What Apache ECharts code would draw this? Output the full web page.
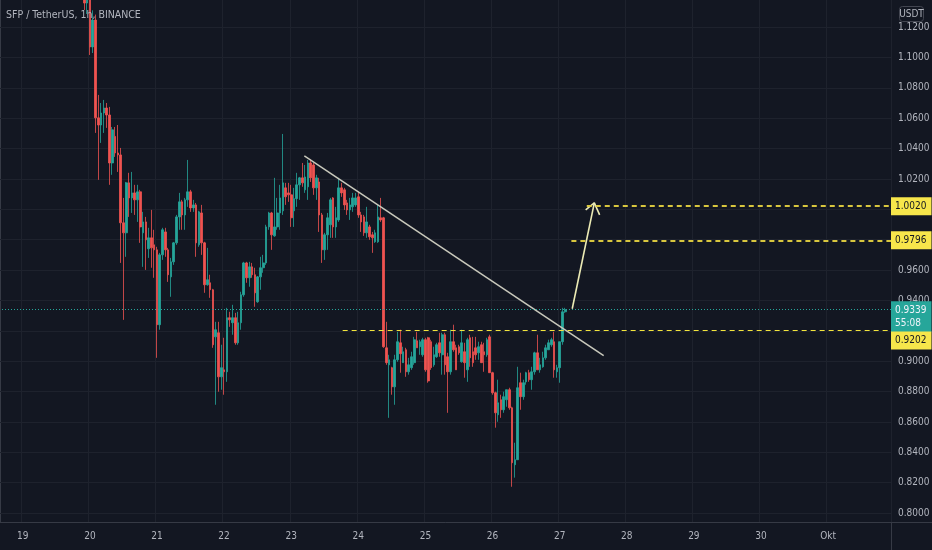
<!DOCTYPE html>
<html>
<head>
<meta charset="utf-8">
<script src="https://cdn.jsdelivr.net/npm/echarts@6/dist/echarts.min.js"></script>
<style>
html,body{margin:0;padding:0;background:#131722;}
#chart{width:932px;height:550px;}
</style>
</head>
<body>
<div id="chart"></div>
<script>
// ---------------- data ----------------
const titleText = 'SFP / TetherUS, 1h, BINANCE';
const currencyLabel = 'USDT';
const axisStart = '2021-09-18 16:00';   // first hourly slot on the time axis
const axisHours = 319;                   // number of hourly slots shown
const candleStart = '2021-09-19 22:00';  // time of first candle
const monthNames = {10: 'Okt'};
const priceTicks = [0.80,0.82,0.84,0.86,0.88,0.90,0.92,0.94,0.96,0.98,1.00,1.02,1.04,1.06,1.08,1.10,1.12];
const priceRange = [0.7941, 1.1378];
// [open, close, low, high]
const ohlc = [
[1.1500,1.1358,1.1312,1.1580],[1.1358,1.1460,1.1286,1.1520],[1.1460,1.1069,1.1016,1.1500],[1.1069,1.1246,1.1029,1.1310],
[1.1246,1.0602,1.0503,1.1282],[1.0602,1.0555,1.0194,1.0753],[1.0555,1.0634,1.0437,1.0700],[1.0634,1.0667,1.0503,1.0720],
[1.0667,1.0621,1.0536,1.0700],[1.0621,1.0305,1.0161,1.0674],[1.0305,1.0523,1.0227,1.0542],[1.0480,1.0371,1.0345,1.0542],
[1.0371,1.0358,1.0246,1.0555],[1.0358,0.9911,0.9647,1.0404],[0.9911,0.9845,0.9272,1.0075],[0.9845,1.0174,0.9687,1.0180],
[1.0174,1.0075,0.9950,1.0240],[1.0075,1.0108,0.9976,1.0246],[1.0108,1.0062,0.9963,1.0161],[1.0062,1.0115,0.9917,1.0161],
[1.0115,0.9884,0.9779,1.0128],[0.9845,0.9917,0.9621,0.9983],[0.9917,0.9799,0.9601,0.9950],[0.9740,0.9812,0.9680,0.9878],
[0.9812,0.9746,0.9615,0.9996],[0.9766,0.9733,0.9549,0.9865],[0.9733,0.9240,0.9022,0.9753],[0.9240,0.9700,0.9207,0.9713],
[0.9700,0.9865,0.9667,0.9878],[0.9851,0.9733,0.9687,0.9878],[0.9733,0.9569,0.9522,0.9746],[0.9555,0.9654,0.9424,0.9680],
[0.9654,0.9779,0.9634,0.9785],[0.9779,0.9950,0.9766,0.9963],[0.9950,1.0049,0.9865,1.0108],[1.0049,0.9963,0.9865,1.0062],
[0.9963,1.0062,0.9865,1.0075],[1.0062,1.0115,1.0016,1.0325],[1.0115,1.0009,0.9983,1.0128],[1.0009,1.0029,0.9983,1.0062],
[1.0029,0.9779,0.9687,1.0042],[0.9766,0.9983,0.9753,0.9990],[0.9976,0.9779,0.9700,1.0029],[0.9779,0.9503,0.9450,0.9786],
[0.9503,0.9536,0.9497,0.9746],[0.9516,0.9470,0.9417,0.9569],[0.9470,0.9108,0.9088,0.9476],[0.9160,0.9207,0.8713,0.9259],
[0.9187,0.8897,0.8799,0.9259],[0.8897,0.8957,0.8812,0.9108],[0.8943,0.8930,0.8779,0.9154],[0.8930,0.9286,0.8864,0.9351],
[0.9286,0.9272,0.9226,0.9325],[0.9253,0.9286,0.9174,0.9371],[0.9286,0.9121,0.9108,0.9318],[0.9121,0.9253,0.9108,0.9325],
[0.9253,0.9437,0.9207,0.9457],[0.9437,0.9647,0.9424,0.9654],[0.9647,0.9549,0.9516,0.9654],[0.9549,0.9621,0.9490,0.9654],
[0.9621,0.9569,0.9549,0.9647],[0.9569,0.9450,0.9358,0.9615],[0.9391,0.9555,0.9384,0.9560],[0.9555,0.9615,0.9470,0.9687],
[0.9615,0.9647,0.9582,0.9700],[0.9647,0.9884,0.9634,0.9898],[0.9884,0.9976,0.9865,0.9983],[0.9976,0.9832,0.9733,0.9983],
[0.9825,0.9884,0.9819,1.0207],[0.9884,0.9976,0.9865,1.0075],[0.9976,1.0075,0.9865,1.0161],[0.9990,1.0174,0.9963,1.0496],
[1.0141,1.0082,1.0029,1.0174],[1.0108,1.0095,1.0049,1.0174],[1.0095,0.9944,0.9884,1.0161],[0.9990,1.0070,0.9884,1.0141],
[1.0070,1.0161,1.0016,1.0240],[1.0161,1.0207,1.0062,1.0213],[1.0207,1.0174,1.0148,1.0305],[1.0128,1.0213,1.0108,1.0292],
[1.0148,1.0305,1.0062,1.0325],[1.0305,1.0207,1.0180,1.0330],[1.0292,1.0141,1.0095,1.0305],[1.0141,1.0207,1.0062,1.0227],
[1.0180,0.9963,0.9851,1.0207],[0.9963,0.9733,0.9647,0.9976],[0.9733,0.9832,0.9667,0.9845],[0.9832,0.9944,0.9733,0.9976],
[0.9898,1.0062,0.9812,1.0075],[1.0075,0.9884,0.9812,1.0080],[0.9884,0.9944,0.9812,1.0016],[0.9930,1.0141,0.9917,1.0207],
[1.0141,1.0108,1.0082,1.0174],[1.0128,1.0029,0.9996,1.0141],[1.0042,0.9996,0.9963,1.0062],[0.9996,1.0029,0.9930,1.0075],
[1.0016,1.0075,0.9983,1.0108],[1.0029,1.0075,1.0016,1.0108],[1.0082,0.9963,0.9944,1.0115],[0.9963,0.9917,0.9851,0.9983],
[0.9950,0.9845,0.9825,0.9963],[0.9845,0.9917,0.9812,1.0016],[0.9884,0.9819,0.9799,0.9898],[0.9832,0.9812,0.9713,0.9851],
[0.9786,0.9845,0.9779,0.9865],[0.9786,0.9950,0.9779,1.0029],[0.9944,0.9930,0.9917,1.0075],[0.9944,0.9095,0.9088,0.9950],
[0.9088,0.8990,0.8976,0.9259],[0.8976,0.9009,0.8627,0.9042],[0.8957,0.8831,0.8779,0.8963],[0.8831,0.9009,0.8713,0.9042],
[0.9009,0.9128,0.8996,0.9193],[0.9121,0.9049,0.8924,0.9207],[0.8990,0.9062,0.8990,0.9095],[0.9075,0.8930,0.8897,0.9088],
[0.8930,0.8976,0.8911,0.9022],[0.8957,0.9029,0.8943,0.9062],[0.8990,0.9141,0.8976,0.9160],[0.9134,0.9088,0.9088,0.9193],
[0.9095,0.9128,0.9042,0.9141],[0.9042,0.9141,0.9029,0.9154],[0.9141,0.8943,0.8930,0.9154],[0.9154,0.8870,0.8858,0.9160],
[0.9128,0.8957,0.8943,0.9141],[0.8976,0.9042,0.8963,0.9095],[0.9029,0.9108,0.9022,0.9121],[0.9121,0.9055,0.9029,0.9187],
[0.9042,0.9174,0.8911,0.9187],[0.9174,0.8976,0.8911,0.9187],[0.9029,0.8930,0.8660,0.9055],[0.8930,0.9128,0.8911,0.9207],
[0.9128,0.9075,0.9062,0.9240],[0.9088,0.8943,0.8943,0.9108],[0.9095,0.9055,0.9042,0.9108],[0.8996,0.9121,0.8990,0.9207],
[0.9062,0.8990,0.8891,0.9121],[0.8943,0.9141,0.8864,0.9154],[0.9154,0.9022,0.8963,0.9174],[0.9062,0.8990,0.8963,0.9160],
[0.9088,0.9042,0.9009,0.9160],[0.9055,0.9095,0.9009,0.9128],[0.9108,0.8990,0.8990,0.9128],[0.9062,0.9042,0.8930,0.9121],
[0.9042,0.9141,0.9029,0.9154],[0.9160,0.8924,0.8924,0.9174],[0.8924,0.8792,0.8779,0.8930],[0.8792,0.8660,0.8562,0.8799],
[0.8647,0.8726,0.8601,0.8878],[0.8746,0.8680,0.8627,0.8779],[0.8680,0.8766,0.8660,0.8799],[0.8746,0.8812,0.8700,0.8812],
[0.8812,0.8693,0.8680,0.8825],[0.8693,0.8331,0.8173,0.8700],[0.8318,0.8351,0.8233,0.8463],[0.8351,0.8825,0.8351,0.8963],
[0.8858,0.8766,0.8680,0.8924],[0.8766,0.8858,0.8746,0.8878],[0.8864,0.8924,0.8845,0.8930],[0.8924,0.8878,0.8864,0.8943],
[0.8878,0.8930,0.8812,0.8963],[0.8930,0.9055,0.8911,0.9062],[0.9055,0.8943,0.8943,0.9174],[0.8943,0.8976,0.8924,0.9022],
[0.8963,0.9022,0.8957,0.9062],[0.9022,0.9088,0.9009,0.9108],[0.9075,0.9121,0.9075,0.9141],[0.9108,0.9141,0.9095,0.9154],
[0.9128,0.8943,0.8891,0.9193],[0.8930,0.8957,0.8891,0.8976],[0.8957,0.9128,0.8858,0.9128],[0.9128,0.9325,0.9108,0.9351],
[0.9325,0.9339,0.9318,0.9351]
];
const lastPrice = 0.9339;
const countdown = '55:08';
const targetLevels = [1.0020, 0.9796];
const targetStarts = ['2021-09-27 09:42', '2021-09-27 04:12'];
const supportLevel = 0.9202;
const supportStart = '2021-09-23 18:24';
const trendLine = [['2021-09-23 04:42', 1.0351], ['2021-09-27 15:45', 0.9036]];
const arrowShaft = [['2021-09-27 04:30', 0.9345], ['2021-09-27 12:24', 1.0042]];
const arrowHead = [['2021-09-27 09:18', 0.9996], ['2021-09-27 12:24', 1.0042], ['2021-09-27 14:18', 0.9963]];

// ---------------- helpers ----------------
function toMs(s){
  const [d,t] = s.split(' ');
  const [Y,M,D] = d.split('-').map(Number);
  const [h,m] = t.split(':').map(Number);
  return Date.UTC(Y, M-1, D, h, m);
}
const t0 = toMs(axisStart);
const hourIdx = s => (toMs(s) - t0) / 3600000;
const pad = n => (n < 10 ? '0' : '') + n;
const categories = [];
for (let k = 0; k < axisHours; k++) {
  const d = new Date(t0 + k * 3600000);
  categories.push(d.getUTCFullYear() + '-' + pad(d.getUTCMonth()+1) + '-' + pad(d.getUTCDate()) + ' ' + pad(d.getUTCHours()) + ':00');
}
const startIdx = hourIdx(candleStart);
const candleData = categories.map((c, k) => {
  const j = k - startIdx;
  return (j >= 0 && j < ohlc.length) ? ohlc[j] : '-';
});
const isDayStart = v => v.endsWith(' 00:00');
function dayLabel(v){
  const d = new Date(toMs(v));
  const day = d.getUTCDate();
  return day === 1 ? (monthNames[d.getUTCMonth()+1] || String(day)) : String(day);
}
const axisEnd = axisHours - 0.5;
const pt = p => [hourIdx(p[0]), p[1]];

// ---------------- style ----------------
const FONT = "'Liberation Sans Narrow','DejaVu Sans Condensed','Liberation Sans',sans-serif";
const BG = '#131722';
const GRID = '#1e222d';
const TXT = '#b2b5be';
const UP = '#26a69a';
const DOWN = '#ef5350';
const AXIS = '#363a45';

function levelLine(price, from, color, width, dash, labelOpt){
  return [
    {coord: [hourIdx(from), price], lineStyle: {color: color, width: width, type: dash}, label: labelOpt},
    {coord: [axisEnd, price]}
  ];
}
const boxLabel = (text, bg, fg, offset) => ({
  show: true, position: 'end', distance: 0, formatter: text,
  backgroundColor: bg, color: fg, padding: [3, 5, 2, 4],
  fontSize: 10, fontFamily: FONT, lineHeight: 13, offset: offset || [0, 0]
});

const chart = echarts.init(document.getElementById('chart'), null, {renderer: 'canvas'});
chart.setOption({
  backgroundColor: BG,
  animation: false,
  title: {
    text: titleText, left: 6, top: 10, padding: 0,
    textStyle: {color: TXT, fontSize: 10.5, fontWeight: 'normal', fontFamily: FONT}
  },
  grid: {left: -1, right: 41, top: 0, bottom: 28, containLabel: false, outerBoundsMode: 'none'},
  xAxis: [{
    type: 'category', data: categories, boundaryGap: true,
    axisLine: {show: true, lineStyle: {color: AXIS, width: 1}},
    axisTick: {show: false},
    axisLabel: {interval: (i, v) => isDayStart(v), formatter: dayLabel, color: TXT, fontSize: 10, fontFamily: FONT, margin: 9},
    splitLine: {show: true, interval: (i, v) => isDayStart(v), lineStyle: {color: GRID, width: 1}}
  }, {
    type: 'value', min: -0.5, max: axisEnd, show: false
  }],
  yAxis: {
    type: 'value', position: 'right', min: priceRange[0], max: priceRange[1],
    axisLine: {show: true, lineStyle: {color: AXIS, width: 1}},
    axisTick: {show: false},
    splitLine: {show: false},
    axisLabel: {customValues: priceTicks, formatter: v => v.toFixed(4), color: TXT, fontSize: 10, fontFamily: FONT, margin: 7}
  },
  series: [{
    name: 'grid', type: 'line', xAxisIndex: 1, data: [], silent: true, z: 1,
    markLine: {
      silent: true, symbol: 'none', z: 1, animation: false,
      label: {show: false},
      lineStyle: {color: GRID, width: 1, type: 'solid'},
      data: priceTicks.map(v => ({yAxis: v}))
    }
  }, {
    name: 'SFP/USDT', type: 'candlestick', data: candleData, clip: true, z: 2,
    barWidth: 2.1,
    itemStyle: {color: UP, color0: DOWN, borderColor: UP, borderColor0: DOWN, borderWidth: 0.8}
  }, {
    name: 'levels', type: 'line', xAxisIndex: 1, data: [], silent: true, z: 4,
    markLine: {
      silent: true, symbol: 'none', z: 6, animation: false,
      data: [
        levelLine(lastPrice, '2021-09-18 15:30', UP, 1, [1, 2], boxLabel(lastPrice.toFixed(4) + '\n' + countdown, UP, '#f0f3fa', [0, 7])),
        levelLine(supportLevel, supportStart, '#f2e43c', 1, [5, 4], boxLabel(supportLevel.toFixed(4), '#f7e64b', BG, [0, 10])),
        levelLine(targetLevels[0], targetStarts[0], '#d8c63e', 2, [5, 4], boxLabel(targetLevels[0].toFixed(4), '#f7e64b', BG)),
        levelLine(targetLevels[1], targetStarts[1], '#d8c63e', 2, [5, 4], boxLabel(targetLevels[1].toFixed(4), '#f7e64b', BG))
      ]
    }
  }, {
    name: 'trend', type: 'line', xAxisIndex: 1, data: trendLine.map(pt), symbol: 'none', silent: true, z: 5,
    lineStyle: {color: '#c9c9bc', width: 1.5}
  }, {
    name: 'arrow', type: 'line', xAxisIndex: 1, data: arrowShaft.map(pt), symbol: 'none', silent: true, z: 5,
    lineStyle: {color: '#ecebb5', width: 1.6}
  }, {
    name: 'arrowHead', type: 'line', xAxisIndex: 1, data: arrowHead.map(pt), symbol: 'none', silent: true, z: 5,
    lineStyle: {color: '#ecebb5', width: 1.6}
  }],
  graphic: [
    {type: 'line', z: 10, shape: {x1: 891.5, y1: 522, x2: 891.5, y2: 550}, style: {stroke: AXIS, lineWidth: 1}},
    {type: 'line', z: 10, shape: {x1: 891, y1: 522.5, x2: 932, y2: 522.5}, style: {stroke: AXIS, lineWidth: 1}},
    {type: 'rect', z: 10, shape: {x: 899.5, y: 6.5, width: 24, height: 15, r: 3}, style: {fill: BG, stroke: '#434651', lineWidth: 1}},
    {type: 'text', z: 11, x: 911.5, y: 14, style: {text: currencyLabel, fill: TXT, fontSize: 10, fontFamily: FONT, align: 'center', verticalAlign: 'middle'}}
  ]
});
</script>
</body>
</html>
